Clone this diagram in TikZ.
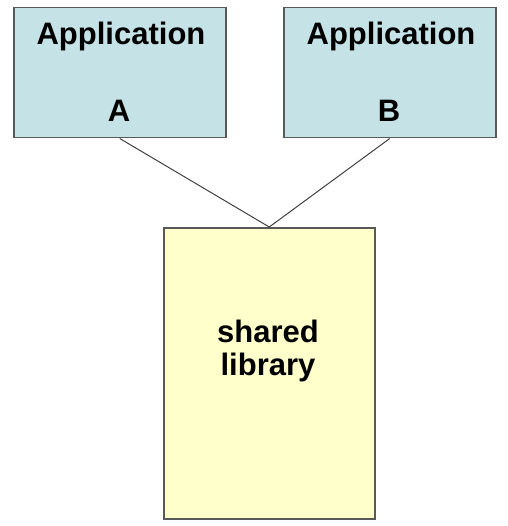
\documentclass[tikz,border=0pt]{standalone}
\usepackage{fontspec}
\setmainfont{Liberation Sans}
\begin{document}
\begin{tikzpicture}[x=1pt,y=-1pt,
  box/.style={draw=black!65,line width=1.5pt,inner sep=0pt,anchor=north west},
  appbox/.style={box,fill=appblue},
  libbox/.style={box,fill=libyellow},
  lbl/.style={font=\fontsize{31}{33}\selectfont\bfseries,anchor=base,inner sep=0pt},
  link/.style={draw=black!75,line width=1pt}]
  \definecolor{appblue}{RGB}{197,226,230}
  \definecolor{libyellow}{RGB}{255,255,204}
  \useasboundingbox (0,0) rectangle (507,526);
  % the two application boxes
  \node[appbox,minimum width=212pt,minimum height=130pt] (a) at (13,7) {};
  \node[appbox,minimum width=212pt,minimum height=130pt] (b) at (283,7) {};
  % the shared library box
  \node[libbox,minimum width=211pt,minimum height=291pt] (lib) at (163,227) {};
  % labels
  \node[lbl] (a1) at (121,45) {Application};
  \node[lbl] (a2) at (119,122) {A};
  \node[lbl] (b1) at (391,45) {Application};
  \node[lbl] (b2) at (389,122) {B};
  \node[lbl] (l1) at (268,342) {shared};
  \node[lbl] (l2) at (268,375) {library};
  % both applications link to the library
  \draw[link] (a.south) -- (lib.north);
  \draw[link] (b.south) -- (lib.north);
\end{tikzpicture}
\end{document}
